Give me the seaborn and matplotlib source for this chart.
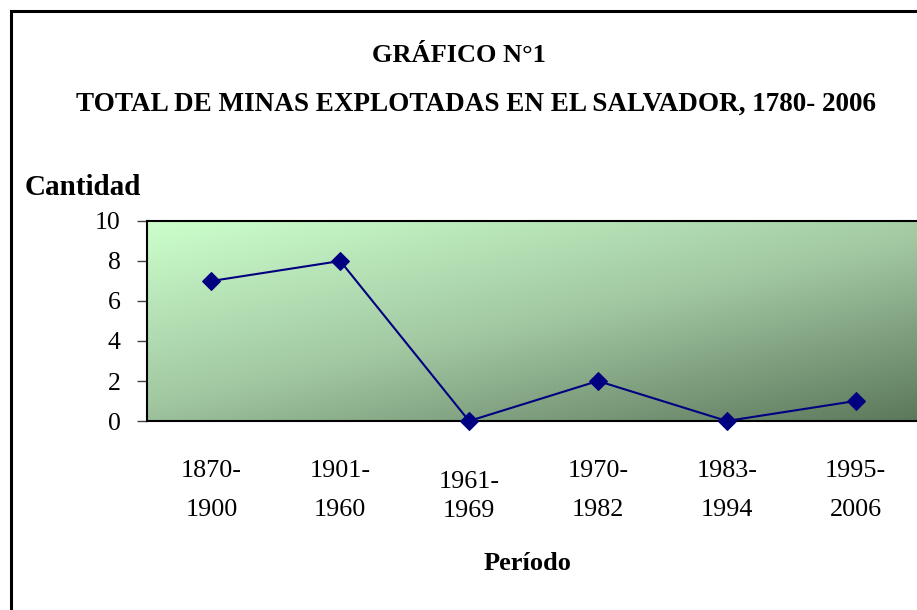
import numpy as np
import seaborn as sns
import matplotlib.pyplot as plt
from matplotlib.colors import LinearSegmentedColormap
from matplotlib.patches import Rectangle
import matplotlib.transforms as mtransforms

# data
periodos = ["1870-\n1900", "1901-\n1960", "1961-\n1969", "1970-\n1982", "1983-\n1994", "1995-\n2006"]
minas = [7, 8, 0, 2, 0, 1]
y_ticks = [0, 2, 4, 6, 8, 10]

sns.set_style("white")
plt.rcParams["font.family"] = ["Liberation Serif", "DejaVu Serif"]
plt.rcParams["text.color"] = "black"
plt.rcParams["xtick.color"] = "black"
plt.rcParams["ytick.color"] = "black"

fig = plt.figure(figsize=(9.17, 6.10), dpi=100)
ax = fig.add_axes([147 / 917, 1 - 421 / 610, (920 - 147) / 917, 200 / 610])

# diagonal green gradient for plot area
cmap = LinearSegmentedColormap.from_list("verde", ["#ccffcc", "#a2c8a2", "#5c785c"])
u, v = np.meshgrid(np.linspace(0, 1, 300), np.linspace(0, 1, 200))
ax.imshow(0.45 * u + 0.55 * v, cmap=cmap, extent=[-0.5, 5.5, 0, 10], aspect="auto",
          origin="upper", zorder=0, interpolation="bilinear")

sns.lineplot(x=np.arange(len(minas)), y=minas, ax=ax, color="#000080", linewidth=1.5,
             marker="D", markersize=9, markeredgecolor="#000080", zorder=3, clip_on=False)

ax.set_xlim(-0.5, 5.5)
ax.set_ylim(0, 10)
ax.set_yticks(y_ticks)
ax.set_yticklabels([str(t) for t in y_ticks], fontsize=18.5)
ax.set_xticks(np.arange(len(periodos)))
ax.set_xticklabels(periodos, fontsize=18.8, linespacing=2.03)
ax.set_xticks(np.arange(-0.5, 5.5, 1), minor=True)
ax.tick_params(axis="x", which="major", length=0, pad=28)
ax.tick_params(axis="x", which="minor", length=7, width=1, color="#444444", direction="out")
ax.tick_params(axis="y", length=7, width=1, color="#444444", direction="out", pad=12)
ax.yaxis.set_ticks_position("left")

# third label sits a bit lower in the original
lbl = ax.get_xticklabels()[2]
lbl.set_linespacing(1.44)
lbl.set_transform(lbl.get_transform() + mtransforms.ScaledTranslation(0, -8 / 72, fig.dpi_scale_trans))

for side in ["left", "bottom", "top"]:
    ax.spines[side].set_color("black")
    ax.spines[side].set_linewidth(1.5)
ax.spines["right"].set_visible(False)
ax.set_xlabel("")
ax.set_ylabel("")

fig.text(459 / 917, 1 - 56 / 610, "GRÁFICO N°1", ha="center", va="center", fontsize=19, fontweight="bold")
fig.text(476 / 917, 1 - 104 / 610, "TOTAL DE MINAS EXPLOTADAS EN EL SALVADOR, 1780- 2006",
         ha="center", va="center", fontsize=19.5, fontweight="bold")
fig.text(25 / 917, 1 - 188 / 610, "Cantidad", ha="left", va="center", fontsize=21, fontweight="bold")
fig.text(527 / 917, 1 - 563 / 610, "Período", ha="center", va="center", fontsize=19, fontweight="bold")

# outer frame of the chart
fig.patches.append(Rectangle((11 / 917, -0.1), 1.2, 1 - 11 / 610 + 0.1, transform=fig.transFigure,
                             fill=False, edgecolor="black", linewidth=2.2))

fig.savefig("out.png", dpi=100)
